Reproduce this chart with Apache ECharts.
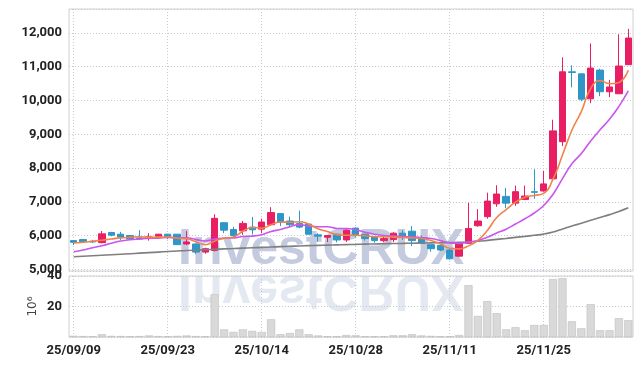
<!DOCTYPE html>
<html><head><meta charset="utf-8">
<script src="https://cdn.jsdelivr.net/npm/echarts@6/dist/echarts.min.js"></script>
<style>html,body{margin:0;padding:0;background:#fff}#c{width:643px;height:366px}</style>
</head><body><div id="c"></div>
<script>
const dates = ['25/09/09','25/09/10','25/09/11','25/09/12','25/09/15','25/09/16','25/09/17','25/09/18','25/09/19','25/09/22',
'25/09/23','25/09/24','25/09/25','25/09/26','25/09/29','25/09/30','25/10/01','25/10/02','25/10/10','25/10/13',
'25/10/14','25/10/15','25/10/16','25/10/17','25/10/20','25/10/21','25/10/22','25/10/23','25/10/24','25/10/27',
'25/10/28','25/10/29','25/10/30','25/10/31','25/11/03','25/11/04','25/11/05','25/11/06','25/11/07','25/11/10',
'25/11/11','25/11/12','25/11/13','25/11/14','25/11/17','25/11/18','25/11/19','25/11/20','25/11/21','25/11/24',
'25/11/25','25/11/26','25/11/27','25/11/28','25/12/01','25/12/02','25/12/03','25/12/04','25/12/05','25/12/08'];
const opens  = [5850,5880,5830,5790,6090,6040,6000,5930,5920,5980, 6040,6040,5750,5750,5510,5560,6380,6180,6140,6250,
                6190,6320,6650,6430,6360,6340,6020,5950,6040,5870, 6220,6040,5970,5850,5880,6070,6130,5920,5730,5710,
                5570,5390,5770,6290,6560,6940,7160,6960,7070,7300, 7320,7680,8780,10850,10790,10050,10900,10260,10200,11060];
const closes = [5800,5820,5810,6050,6010,5960,5900,5900,5960,6040, 5980,5730,5810,5510,5610,6510,6160,6000,6360,6170,
                6400,6680,6400,6320,6250,6040,5980,6000,5870,6160, 6030,5910,5850,5910,6070,5970,5850,5770,5610,5570,
                5310,5770,6210,6430,7020,7230,6960,7300,7170,7280, 7530,9100,10850,10830,10040,10960,10260,10400,11020,11850];
const lows   = [5720,5800,5780,5770,5980,5870,5890,5870,5850,5920, 5890,5720,5720,5450,5460,5530,6070,5960,6020,6030,
                6070,6300,6280,6250,6220,6030,5820,5810,5800,5810, 5950,5850,5790,5800,5810,5870,5690,5760,5520,5540,
                5290,5370,5760,6260,6500,6850,6810,6880,7050,7090, 7300,7650,8650,10390,9980,9920,10130,10100,10190,11050];
const highs  = [5860,5900,5870,6135,6110,6110,6010,6160,6070,6050, 6050,6040,6130,5760,5640,6630,6400,6260,6430,6550,
                6500,6840,6660,6560,6740,6350,6070,6010,6050,6180, 6240,6050,5980,5960,6100,6160,6280,6000,5740,5730,
                5600,5780,6970,6780,7270,7490,7410,7480,7480,7960, 7920,9430,11280,11040,10790,11690,10940,10610,11960,12120];
const ma5  = [5780,5800,5830,5860,5898,5930,5946,5964,5946,5952, 5956,5922,5904,5814,5728,5834,5920,5958,6128,6240,
              6218,6322,6402,6394,6410,6338,6198,6118,6028,6010, 6008,5994,5964,5972,5954,5942,5930,5914,5854,5754,
              5622,5606,5694,5858,6148,6532,6770,6988,7136,7188, 7248,7676,8386,9118,9670,10356,10588,10498,10536,10898];
const ma10 = [5521,5571,5640,5700,5770,5838,5877,5900,5920,5925, 5943,5934,5934,5880,5840,5895,5921,5931,5971,5984,
              6026,6121,6180,6261,6325,6278,6260,6260,6211,6210, 6173,6096,6041,6000,5982,5975,5962,5939,5913,5854,
              5782,5768,5804,5856,5951,6077,6188,6341,6497,6668, 6890,7223,7687,8127,8429,8802,9132,9442,9827,10284];
const ma60 = [5373,5388,5403,5418,5433,5448,5463,5478,5494,5510, 5526,5542,5558,5570,5581,5593,5605,5616,5627,5638,
              5649,5660,5671,5682,5692,5702,5710,5717,5724,5731, 5738,5745,5751,5757,5763,5768,5774,5779,5784,5789,
              5794,5800,5813,5830,5857,5888,5914,5946,5975,6007, 6042,6104,6195,6285,6363,6455,6536,6620,6713,6821];
const volumes = [0.8,0.6,0.5,1.8,0.7,0.6,0.5,0.6,1.0,0.6, 0.5,0.7,1.0,0.6,0.5,28,5,3.3,5,4,
                 3.3,11.6,1.8,2.6,5,1.8,1.0,0.5,0.5,1.3, 1.1,0.5,0.5,0.5,1.1,1.1,1.8,1.0,0.7,0.5,
                 0.5,1.3,34,13.8,23.5,15.6,5,6.4,4.4,7.9, 7.9,38,38.6,10.3,5.7,21.5,4.4,4.4,12.3,11];

const candleData = opens.map((o, i) => [o, closes[i], lows[i], highs[i]]);
const FONT = "Roboto, 'Liberation Sans', sans-serif";
const labelStyle = {fontFamily: FONT, fontWeight: 'bold', fontSize: 13, color: '#222'};
const splitStyle = {color: '#c3cad9', type: [1, 2], width: 1};
const WM_FONT = "bold 50px 'Liberation Sans', Arial, sans-serif";

const chart = echarts.init(document.getElementById('c'), null, {renderer: 'canvas'});
chart.setOption({
  animation: false,
  backgroundColor: '#fff',
  grid: [
    {left: 69, right: 10, top: 9, height: 262, show: true, borderColor: '#d0d0d0', borderWidth: 1},
    {left: 69, right: 10, top: 276, height: 61, show: true, borderColor: '#d0d0d0', borderWidth: 1}
  ],
  xAxis: [
    {type: 'category', gridIndex: 0, data: dates, boundaryGap: true,
     axisLine: {show: false}, axisTick: {show: false}, axisLabel: {show: false},
     splitLine: {show: true, interval: 9, alignWithLabel: true, lineStyle: splitStyle}},
    {type: 'category', gridIndex: 1, data: dates, boundaryGap: true,
     axisLine: {show: false}, axisTick: {show: false},
     axisLabel: Object.assign({interval: 9, margin: 7}, labelStyle),
     splitLine: {show: true, interval: 9, alignWithLabel: true, lineStyle: splitStyle}}
  ],
  yAxis: [
    {type: 'value', gridIndex: 0, min: 4950, max: 12710, splitNumber: 8, scale: true,
     axisLine: {show: false}, axisTick: {show: false},
     axisLabel: Object.assign({margin: 7, showMinLabel: false, showMaxLabel: false,
       formatter: v => v.toLocaleString('en-US')}, labelStyle),
     splitLine: {show: true, lineStyle: splitStyle}},
    {type: 'value', gridIndex: 1, min: 0, max: 40, interval: 20,
     name: '10\u2076', nameLocation: 'middle', nameRotate: 90, nameGap: 30, nameMoveOverlap: false,
     nameTextStyle: {fontFamily: 'DejaVu Sans', fontSize: 12, color: '#444'},
     axisLine: {show: false}, axisTick: {show: false},
     axisLabel: Object.assign({margin: 7, showMinLabel: false}, labelStyle),
     splitLine: {show: true, lineStyle: splitStyle}}
  ],
  graphic: [
    {type: 'text', z: 0, x: 178, y: 0,
     style: {x: 0, y: 250, text: 'InvestCRUX', font: WM_FONT,
             fill: '#c4cbdf', verticalAlign: 'middle', align: 'left'}},
    {type: 'text', z: 0, x: 178, y: 0, originY: 270, scaleY: -1,
     style: {x: 0, y: 250, text: 'InvestCRUX', font: WM_FONT,
             fill: 'rgba(196,203,223,0.45)', verticalAlign: 'middle', align: 'left'}}
  ],
  series: [
    {name: 'MA60', type: 'line', xAxisIndex: 0, yAxisIndex: 0, data: ma60, showSymbol: false, smooth: true,
     lineStyle: {color: '#7f7f7f', width: 1.6}},
    {name: 'MA10', type: 'line', xAxisIndex: 0, yAxisIndex: 0, data: ma10, showSymbol: false, smooth: true,
     lineStyle: {color: '#cc55ee', width: 1.6}},
    {name: 'MA5', type: 'line', xAxisIndex: 0, yAxisIndex: 0, data: ma5, showSymbol: false, smooth: true,
     lineStyle: {color: '#f0834a', width: 1.6}},
    {name: 'Price', type: 'candlestick', xAxisIndex: 0, yAxisIndex: 0, data: candleData, barWidth: '74%',
     itemStyle: {color: '#e91e63', color0: '#2f96c8', borderColor: '#e91e63', borderColor0: '#2f96c8', borderWidth: 1}},
    {name: 'Volume', type: 'bar', xAxisIndex: 1, yAxisIndex: 1, data: volumes, barWidth: '86%',
     itemStyle: {color: '#d9d9d9', borderColor: '#bdbdbd', borderWidth: 0.6}}
  ]
});
</script></body></html>
